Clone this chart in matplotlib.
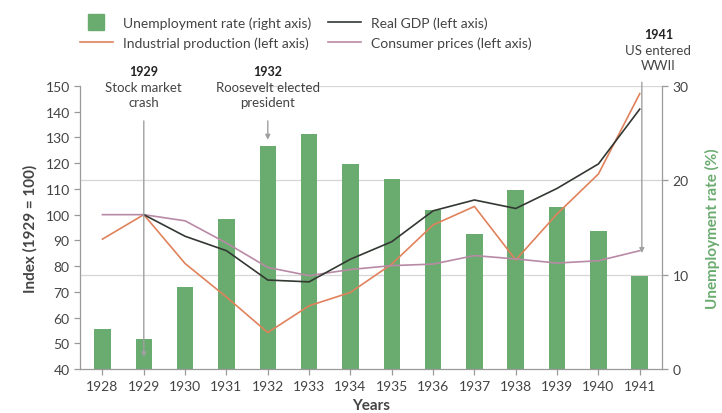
import numpy as np
import matplotlib
matplotlib.use("Agg")
import matplotlib.pyplot as plt
from matplotlib.lines import Line2D

plt.rcParams['font.family'] = ['Lato', 'DejaVu Sans']

# ---------- data ----------
years = np.arange(1928, 1942)
unemployment = [4.2, 3.2, 8.7, 15.9, 23.6, 24.9, 21.7, 20.1, 16.9, 14.3, 19.0, 17.2, 14.6, 9.9]

gdp_years = np.arange(1929, 1942)
real_gdp = [100, 91.6, 86.0, 74.6, 73.9, 82.7, 89.5, 101.5, 105.7, 102.4, 110.2, 119.7, 141.0]

industrial = [90.5, 100, 81, 68, 54.2, 64.6, 69.8, 80.8, 96.0, 103.2, 82.4, 100.3, 115.8, 147.0]
consumer = [100, 100, 97.6, 89.0, 79.5, 76.3, 78.7, 80.2, 80.8, 84.1, 82.8, 81.2, 82.1, 86.0]

# ---------- colours ----------
green = "#6aab6f"
dark = "#333833"
orange = "#e0825c"
mauve = "#b88aa6"
grid_c = "#d6d6d6"
txt = "#444444"
spine_c = "#9a9a9a"

fig = plt.figure(figsize=(7.22, 4.14), dpi=100)
ax2 = fig.add_axes([0.111, 0.106, 0.806, 0.684])   # right axis (bars)
ax = ax2.twinx()
ax.yaxis.tick_left()
ax.yaxis.set_label_position("left")
ax2.yaxis.tick_right()
ax2.yaxis.set_label_position("right")

# ---------- bars on right axis ----------
ax2.bar(years, unemployment, width=0.4, color=green, zorder=2)
ax2.set_ylim(0, 30)
ax2.set_yticks([0, 10, 20, 30])
for v in [10, 20]:
    ax2.axhline(v, color=grid_c, lw=0.9, zorder=0)
ax2.axhline(30, xmin=0.28, color=grid_c, lw=0.9, zorder=0)

# ---------- lines on left axis ----------
ax.plot(years, industrial, color=orange, lw=1.2)
ax.plot(years, consumer, color=mauve, lw=1.2)
ax.plot(gdp_years, real_gdp, color=dark, lw=1.2)
ax.set_ylim(40, 150)
ax.set_yticks(np.arange(40, 151, 10))
ax.set_xlim(1927.46, 1941.54)
ax2.set_xticks(years)

for a in (ax, ax2):
    a.spines["top"].set_visible(False)
    for s in ["left", "right", "bottom"]:
        a.spines[s].set_color(spine_c)
        a.spines[s].set_linewidth(0.9)
    a.tick_params(colors=spine_c, labelcolor=txt, labelsize=10, length=4, width=0.9)
ax.spines["right"].set_visible(False)
ax2.spines["left"].set_visible(False)
ax.spines["bottom"].set_visible(False)

ax.set_ylabel("Index (1929 = 100)", fontsize=11, fontweight="bold", color=txt, labelpad=6)
ax2.set_ylabel("Unemployment rate (%)", fontsize=11, fontweight="bold", color=green, labelpad=12)
ax2.set_xlabel("Years", fontsize=11, fontweight="bold", color=txt, labelpad=5)

# ---------- annotations ----------
arrow = dict(arrowstyle="-|>", color="#a0a0a0", lw=1.0, mutation_scale=7)
ax.annotate("", xy=(1929, 43.5), xytext=(1929, 137.5), arrowprops=arrow)
ax.text(1929, 155.8, "1929", ha="center", va="center", fontsize=9, fontweight="bold", color="#222")
ax.text(1929, 146.5, "Stock market\ncrash", ha="center", va="center", fontsize=9.5, color=txt, linespacing=1.3)

ax.annotate("", xy=(1932, 128), xytext=(1932, 137.5), arrowprops=arrow)
ax.text(1932, 155.8, "1932", ha="center", va="center", fontsize=9, fontweight="bold", color="#222")
ax.text(1932, 146.5, "Roosevelt elected\npresident", ha="center", va="center", fontsize=9.5, color=txt, linespacing=1.3)

ax.annotate("", xy=(1941.05, 84), xytext=(1941.05, 152.5), arrowprops=arrow, annotation_clip=False)
ax.text(1941.45, 170.2, "1941", ha="center", va="center", fontsize=9, fontweight="bold", color="#222")
ax.text(1941.45, 161.2, "US entered\nWWII", ha="center", va="center", fontsize=9.5, color=txt, linespacing=1.3)

# ---------- legend ----------
handles = [
    Line2D([], [], color=green, marker="s", markersize=11, linestyle="none"),
    Line2D([], [], color=orange, lw=1.2),
    Line2D([], [], color=dark, lw=1.2),
    Line2D([], [], color=mauve, lw=1.2),
]
labels = ["Unemployment rate (right axis)", "Industrial production (left axis)",
          "Real GDP (left axis)", "Consumer prices (left axis)"]
fig.legend(handles, labels, ncol=2, loc="upper left", bbox_to_anchor=(0.093, 0.988),
           frameon=False, fontsize=10, labelcolor=txt, handlelength=2.4,
           columnspacing=1.2, handletextpad=0.7, labelspacing=0.55)

fig.savefig("out.png", dpi=100)
